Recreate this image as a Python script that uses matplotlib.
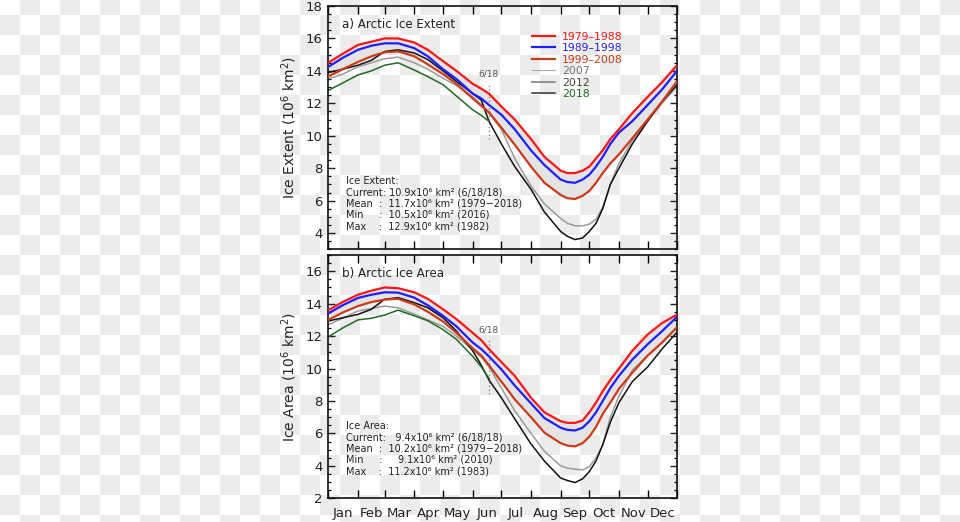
import numpy as np
import matplotlib
matplotlib.use("Agg")
import matplotlib.pyplot as plt
from matplotlib.lines import Line2D

# ---------------- data ----------------
days = [0, 15, 31, 45, 59, 73, 90, 104, 120, 134, 151, 160, 168, 181, 195,
        212, 226, 243, 250, 258, 266, 273, 280, 287, 295, 304, 318, 334, 349, 364]
days_2018 = days[:13]

months = ["Jan", "Feb", "Mar", "Apr", "May", "Jun", "Jul", "Aug", "Sep", "Oct", "Nov", "Dec"]
month_starts = [0, 31, 59, 90, 120, 151, 181, 212, 243, 273, 304, 334, 365]

series_labels = ["1979\u20131988", "1989\u20131998", "1999\u20132008", "2007", "2012", "2018"]

# Extent (10^6 km^2)
ext_7988 = [14.5, 15.05, 15.6, 15.8, 16.0, 16.0, 15.75, 15.3, 14.6, 14.0, 13.2, 12.9, 12.6, 11.8, 11.0,
            9.8, 8.7, 7.85, 7.7, 7.7, 7.85, 8.1, 8.6, 9.1, 9.8, 10.4, 11.4, 12.4, 13.3, 14.3]
ext_8998 = [14.25, 14.8, 15.3, 15.55, 15.7, 15.7, 15.4, 14.9, 14.1, 13.5, 12.6, 12.3, 11.9, 11.3, 10.4,
            9.1, 8.2, 7.3, 7.15, 7.1, 7.3, 7.6, 8.1, 8.7, 9.5, 10.2, 10.9, 11.9, 12.85, 13.95]
ext_9908 = [13.65, 14.1, 14.55, 14.9, 15.15, 15.2, 14.9, 14.4, 13.8, 13.2, 12.3, 11.85, 11.45, 10.5, 9.45,
            8.1, 7.1, 6.35, 6.15, 6.1, 6.3, 6.6, 7.1, 7.7, 8.3, 8.85, 9.85, 11.0, 12.1, 13.3]
ext_2007 = [13.5, 13.8, 14.25, 14.5, 14.75, 14.85, 14.5, 14.1, 13.55, 13.1, 12.4, 11.9, 11.4, 10.4, 8.6,
            6.9, 5.8, 4.9, 4.6, 4.45, 4.45, 4.55, 4.85, 5.6, 7.0, 8.3, 9.7, 10.9, 12.0, 13.0]
ext_2012 = [13.9, 14.1, 14.35, 14.65, 15.2, 15.3, 15.1, 14.7, 14.0, 13.35, 12.6, 12.2, 10.9, 9.5, 8.1,
            6.7, 5.3, 4.1, 3.8, 3.6, 3.7, 4.1, 4.6, 5.5, 7.0, 8.0, 9.5, 10.9, 12.1, 13.1]
ext_2018 = [12.8, 13.25, 13.75, 14.0, 14.35, 14.5, 14.05, 13.65, 13.15, 12.45, 11.6, 11.25, 10.9]

# Area (10^6 km^2)
area_7988 = [13.6, 14.1, 14.55, 14.8, 15.0, 14.95, 14.7, 14.3, 13.65, 13.05, 12.2, 11.75, 11.2, 10.4, 9.55,
             8.2, 7.3, 6.75, 6.65, 6.65, 6.8, 7.3, 7.9, 8.6, 9.3, 10.0, 11.1, 12.1, 12.8, 13.3]
area_8998 = [13.4, 13.9, 14.35, 14.55, 14.7, 14.68, 14.37, 13.9, 13.25, 12.6, 11.6, 11.2, 10.75, 9.95, 8.95,
             7.85, 6.95, 6.35, 6.22, 6.18, 6.35, 6.75, 7.3, 8.0, 8.8, 9.55, 10.55, 11.5, 12.3, 13.15]
area_9908 = [13.0, 13.45, 13.85, 14.1, 14.25, 14.3, 13.95, 13.5, 12.9, 12.2, 11.25, 10.8, 10.2, 9.2, 8.1,
             7.0, 6.05, 5.4, 5.25, 5.2, 5.4, 5.8, 6.4, 7.2, 7.9, 8.75, 9.75, 10.8, 11.6, 12.5]
area_2007 = [12.7, 13.1, 13.55, 13.7, 13.85, 13.75, 13.35, 13.0, 12.6, 12.0, 11.15, 10.7, 10.1, 8.8, 7.4,
             6.0, 4.9, 4.0, 3.86, 3.8, 3.75, 3.95, 4.5, 5.3, 7.0, 8.3, 9.9, 10.8, 11.6, 12.5]
area_2012 = [12.93, 13.13, 13.34, 13.65, 14.27, 14.37, 14.06, 13.75, 13.13, 12.31, 11.1, 10.2, 9.3, 8.2, 6.9,
             5.35, 4.3, 3.25, 3.1, 2.97, 3.2, 3.65, 4.3, 5.3, 6.7, 7.9, 9.2, 10.1, 11.2, 12.2]
area_2018 = [11.95, 12.5, 13.0, 13.1, 13.3, 13.6, 13.25, 12.95, 12.4, 11.8, 10.75, 10.1, 9.4]

# current-day marker (6/18 = day 168)
marker_day = 168
ext_marker = (9.8, 13.2, 13.8)    # dotted from, to, label y
area_marker = (8.4, 11.9, 12.4)

ext_info = ("Ice Extent:\n"
            "Current: 10.9x10\u2076 km\u00b2 (6/18/18)\n"
            "Mean  :  11.7x10\u2076 km\u00b2 (1979\u22122018)\n"
            "Min     :  10.5x10\u2076 km\u00b2 (2016)\n"
            "Max    :  12.9x10\u2076 km\u00b2 (1982)")
area_info = ("Ice Area:\n"
             "Current:   9.4x10\u2076 km\u00b2 (6/18/18)\n"
             "Mean  :  10.2x10\u2076 km\u00b2 (1979\u22122018)\n"
             "Min     :     9.1x10\u2076 km\u00b2 (2010)\n"
             "Max    :  11.2x10\u2076 km\u00b2 (1983)")

# ---------------- style ----------------
C_RED = "#ff1414"
C_BLUE = "#1e1eff"
C_ORG = "#cc3a1a"
C_2007 = "#9a9a9a"
C_2012 = "#111111"
C_2018 = "#1f6b1f"

W, H = 960, 522
fig = plt.figure(figsize=(W / 100, H / 100), dpi=100)

# transparent-background checkerboard
yy, xx = np.mgrid[0:H, 0:W]
checker = ((xx // 20) + ((yy - 15) // 20)) % 2 == 0
bg = np.where(checker, 236, 255).astype(np.uint8)
bg = np.dstack([bg, bg, bg])
fig.figimage(bg, xo=0, yo=0, origin="upper", zorder=-10)


def px(x, y):
    return x / W, 1 - y / H


def make_axes(top, bottom):
    l, r = 328.3, 677.3
    ax = fig.add_axes([l / W, 1 - bottom / H, (r - l) / W, (bottom - top) / H])
    ax.set_zorder(1)
    ax.set_facecolor("none")
    for s in ax.spines.values():
        s.set_linewidth(1.2)
        s.set_color("#111111")
    ax.set_xlim(0, 365)
    ax.set_xticks(month_starts)
    ax.set_xticks([(a + b) / 2 for a, b in zip(month_starts[:-1], month_starts[1:])], minor=True)
    ax.tick_params(axis="x", which="major", direction="in", length=5.5, width=1.0,
                   top=True, bottom=True, labelbottom=False)
    ax.tick_params(axis="x", which="minor", length=0, top=False, bottom=True, labelbottom=False)
    ax.yaxis.set_major_locator(plt.MultipleLocator(2))
    ax.yaxis.set_minor_locator(plt.MultipleLocator(0.5))
    ax.tick_params(axis="y", which="major", direction="in", length=5, width=1.0,
                   left=True, right=True, labelsize=9.5, pad=4, colors="#222222")
    ax.tick_params(axis="y", which="minor", direction="in", length=2.5, width=0.9,
                   left=True, right=True)
    return ax


def draw_panel(ax, d, s7988, s8998, s9908, s07, s12, s18, marker, title, ylabel, info, info_y0):
    ax.fill_between(d, s7988, s9908, color="#e4e4e4", lw=0, zorder=1)
    lo, hi, ty = marker
    ax.vlines(marker_day, lo, hi, colors="#777777", linestyles=(0, (1, 2)), lw=0.9, zorder=1.5)
    ax.text(marker_day, ty, "6/18", fontsize=6.5, color="#555555", ha="center", va="center")
    ax.plot(d, s07, color=C_2007, lw=1.1, zorder=2)
    ax.plot(d, s12, color=C_2012, lw=1.1, zorder=2.1)
    ax.plot(days_2018, s18, color=C_2018, lw=1.1, zorder=2.2)
    ax.plot(d, s9908, color=C_ORG, lw=1.6, zorder=3)
    ax.plot(d, s8998, color=C_BLUE, lw=1.6, zorder=3.1)
    ax.plot(d, s7988, color=C_RED, lw=1.6, zorder=3.2)
    ax.text(0.04, 0.925, title, transform=ax.transAxes, fontsize=8.6, color="#222222",
            ha="left", va="center")
    ax.set_ylabel(ylabel, fontsize=10, color="#222222", labelpad=5)
    fig.text(*px(346, info_y0), info, fontsize=7.0, color="#222222", ha="left", va="top",
             linespacing=1.16)


ax1 = make_axes(6, 249.3)
ax1.set_ylim(3, 18)
draw_panel(ax1, days, ext_7988, ext_8998, ext_9908, ext_2007, ext_2012, ext_2018, ext_marker,
           "a) Arctic Ice Extent", r"Ice Extent (10$^6$ km$^2$)", ext_info, 176)

ax2 = make_axes(255, 498.3)
ax2.set_ylim(2, 17)
draw_panel(ax2, days, area_7988, area_8998, area_9908, area_2007, area_2012, area_2018, area_marker,
           "b) Arctic Ice Area", r"Ice Area (10$^6$ km$^2$)", area_info, 421)
ax2.set_xticklabels(months, minor=True, fontsize=9.5, color="#222222")
ax2.tick_params(axis="x", which="minor", labelbottom=True, pad=6)

# legend
handles = [Line2D([], [], color=C_RED, lw=1.6),
           Line2D([], [], color=C_BLUE, lw=1.6),
           Line2D([], [], color=C_ORG, lw=1.6),
           Line2D([], [], color="#aaaaaa", lw=0.8),
           Line2D([], [], color="#777777", lw=1.1),
           Line2D([], [], color="#333333", lw=1.1)]
leg = ax1.legend(handles, series_labels, loc="upper left",
                 bbox_to_anchor=px(524, 24), bbox_transform=fig.transFigure,
                 frameon=False, fontsize=7.8, handlelength=2.2, handletextpad=0.6,
                 labelspacing=0.14, borderpad=0.2,
                 labelcolor=[C_RED, C_BLUE, C_ORG, "#777777", "#444444", C_2018])

fig.savefig("out.png", dpi=100)
